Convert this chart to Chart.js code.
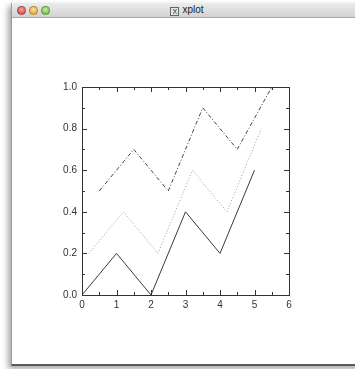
<!DOCTYPE html>
<html><head><meta charset="UTF-8"><title>xplot</title>
<script src="https://cdn.jsdelivr.net/npm/chart.js"></script>
<style>
  html, body { margin: 0; padding: 0; background: #fff; width: 355px; height: 369px; overflow: hidden; font-family: "Liberation Sans", Arial, sans-serif; }
  .win { position: absolute; left: 11px; top: 3px; width: 360px; height: 361px; background: #fff;
         border-left: 1px solid #9a9a9a; border-bottom: 2px solid #5a5a5a; box-shadow: -3px 3px 6px rgba(0,0,0,0.35); }
  .bar { position: absolute; left: 0; top: 0; right: 0; height: 14px; border-bottom: 1px solid #a8a8a8;
         background: linear-gradient(#ececec, #d2d2d2); border-radius: 4px 0 0 0; }
  .dot { position: absolute; top: 2.5px; width: 9px; height: 9px; border-radius: 50%; box-sizing: border-box; border: 0.5px solid rgba(0,0,0,0.25); }
  .title { position: absolute; left: 0; width: 350px; top: 1px; text-align: center; font-size: 10px; color: #222; }
  .title span.x { display: inline-block; width: 7px; height: 7px; border: 1px solid #666; background: #e6e6e6; font-size: 7px; line-height: 7px; margin-right: 3px; vertical-align: -1px; }
  #wrap { position: absolute; left: 0; top: 0; width: 355px; height: 369px; }
</style></head><body>
<div class="win">
  <div class="bar">
    <div class="dot" style="left:5px;background:radial-gradient(circle at 50% 35%,#f7a0a0,#d23b3b);"></div>
    <div class="dot" style="left:17px;background:radial-gradient(circle at 50% 35%,#fde1a0,#e59a1c);"></div>
    <div class="dot" style="left:28.5px;background:radial-gradient(circle at 50% 35%,#c8efa0,#5fae2e);"></div>
    <div class="title"><span class="x">X</span>xplot</div>
  </div>
</div>
<div id="wrap"><canvas id="c" width="355" height="369"></canvas></div>
<script>
// series
const solidX  = [0, 1, 2, 3, 4, 5];
const solidY  = [0.0, 0.2, 0.0, 0.4, 0.2, 0.6];
const dottedX = [0.2, 1.2, 2.2, 3.2, 4.2, 5.2];
const dottedY = [0.2, 0.4, 0.2, 0.6, 0.4, 0.8];
const dashX   = [0.5, 1.5, 2.5, 3.5, 4.5, 5.5];
const dashY   = [0.5, 0.7, 0.5, 0.9, 0.7, 1.0];

const xTicks = [0, 1, 2, 3, 4, 5, 6];
const yTicks = [0.0, 0.2, 0.4, 0.6, 0.8, 1.0];

const pts = (xs, ys) => xs.map((x, i) => ({ x: x, y: ys[i] }));

// frame + inward ticks on all four sides
const frameTicks = {
  id: 'frameTicks',
  afterDraw(chart) {
    const ctx = chart.ctx, a = chart.chartArea;
    const xs = chart.scales.x, ys = chart.scales.y;
    ctx.save();
    ctx.strokeStyle = '#333';
    ctx.lineWidth = 1;
    ctx.strokeRect(Math.round(a.left) + 0.5, Math.round(a.top) + 0.5, Math.round(a.right - a.left), Math.round(a.bottom - a.top));
    ctx.beginPath();
    for (let v = 0; v <= 6.001; v += 0.5) {
      const p = Math.round(xs.getPixelForValue(v)) + 0.5;
      const len = Math.abs(v - Math.round(v)) < 1e-6 ? 5 : 3;
      ctx.moveTo(p, a.bottom); ctx.lineTo(p, a.bottom - len);
      ctx.moveTo(p, a.top); ctx.lineTo(p, a.top + len);
    }
    for (let k = 0; k <= 10; k++) {
      const v = k / 10;
      const p = Math.round(ys.getPixelForValue(v)) + 0.5;
      const len = k % 2 === 0 ? 5 : 3;
      ctx.moveTo(a.left, p); ctx.lineTo(a.left + len, p);
      ctx.moveTo(a.right, p); ctx.lineTo(a.right - len, p);
    }
    ctx.stroke();
    ctx.restore();
  }
};

new Chart(document.getElementById('c'), {
  type: 'scatter',
  data: {
    datasets: [
      { data: pts(solidX, solidY), showLine: true, borderColor: '#3a3a3a', borderWidth: 1, pointRadius: 0, tension: 0 },
      { data: pts(dottedX, dottedY), showLine: true, borderColor: '#9a9a9a', borderWidth: 1, borderDash: [1, 2], pointRadius: 0, tension: 0 },
      { data: pts(dashX, dashY), showLine: true, borderColor: '#444', borderWidth: 1, borderDash: [4, 2, 1, 2], pointRadius: 0, tension: 0 }
    ]
  },
  options: {
    responsive: false,
    animation: false,
    layout: { padding: { top: 87, right: 66, bottom: 50, left: 0 } },
    plugins: { legend: { display: false }, tooltip: { enabled: false } },
    scales: {
      x: {
        type: 'linear', min: 0, max: 6,
        afterBuildTicks: s => { s.ticks = xTicks.map(v => ({ value: v })); },
        afterFit: s => { s.height = 24; },
        grid: { display: false, drawTicks: false },
        border: { display: false },
        ticks: { color: '#333', font: { family: 'Liberation Sans', size: 10 }, padding: 4, callback: v => String(v) }
      },
      y: {
        type: 'linear', min: 0, max: 1,
        afterBuildTicks: s => { s.ticks = yTicks.map(v => ({ value: v })); },
        afterFit: s => { s.width = 82; },
        grid: { display: false, drawTicks: false },
        border: { display: false },
        ticks: { color: '#333', font: { family: 'Liberation Sans', size: 10 }, padding: 5, callback: v => Number(v).toFixed(1) }
      }
    }
  },
  plugins: [frameTicks]
});
</script>
</body></html>
